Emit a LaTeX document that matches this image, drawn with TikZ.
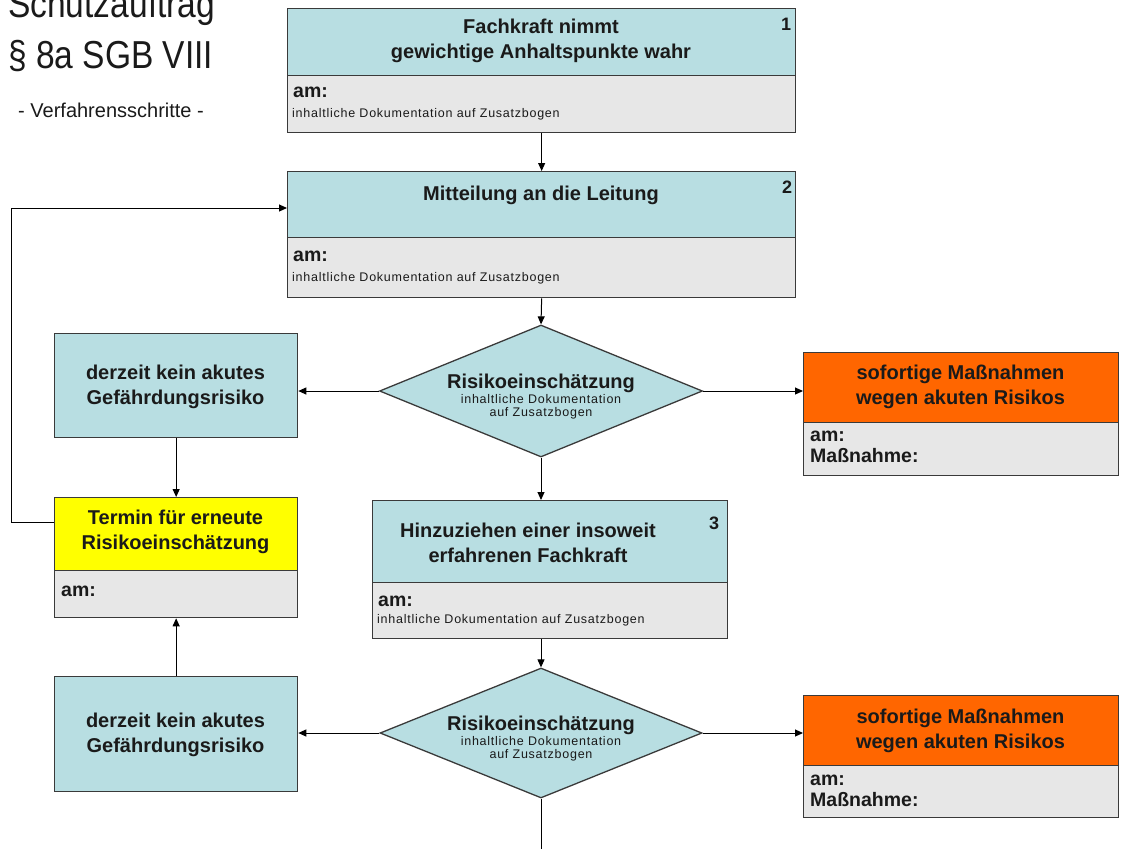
\documentclass[tikz,border=0pt]{standalone}
\usepackage{fontspec}
\setmainfont{Liberation Sans}
\newfontfamily\titlefont{Liberation Sans}[FakeStretch=0.86]
\newfontfamily\smallfont{Liberation Sans}[LetterSpace=6]
\usetikzlibrary{shapes.geometric,arrows.meta,calc}
\definecolor{lblue}{HTML}{B8DEE2}
\definecolor{lgray}{HTML}{E7E7E7}
\definecolor{orng}{HTML}{FF6600}
\definecolor{yel}{HTML}{FFFF00}
\definecolor{bord}{HTML}{3A3A3A}
\definecolor{txt}{HTML}{1A1A1A}
\tikzset{
  part/.style={draw=bord, line width=1.3pt, inner sep=0pt, anchor=north west},
  hdr/.style={part, fill=lblue},
  ohdr/.style={part, fill=orng},
  yhdr/.style={part, fill=yel},
  ftr/.style={part, fill=lgray},
  dia/.style={diamond, draw=bord, line width=1.3pt, fill=lblue, inner sep=0pt},
  arr/.style={-{Triangle[length=8pt,width=7pt]}, line width=1pt, draw=black},
  ln/.style={line width=1pt, draw=black},
  bt/.style={font=\fontsize{20}{25}\selectfont\bfseries, text=txt, align=center, inner sep=0pt, anchor=base},
  num/.style={font=\fontsize{18}{18}\selectfont\bfseries, text=txt, inner sep=0pt, anchor=base},
  am/.style={font=\fontsize{19.5}{20.5}\selectfont\bfseries, text=txt, align=left, inner sep=0pt, anchor=base west},
  sm/.style={font=\smallfont\fontsize{12.5}{13}\selectfont, text=txt, inner sep=0pt, anchor=base west},
  smc/.style={font=\smallfont\fontsize{12.5}{13}\selectfont, text=txt, align=center, inner sep=0pt, anchor=base},
  ttl/.style={font=\titlefont\fontsize{39}{39}\selectfont, text=txt, inner sep=0pt, anchor=base west},
}
\begin{document}
\begin{tikzpicture}[x=1pt,y=-1pt]
\useasboundingbox (0,0) rectangle (1121,849);
% titles
\node[ttl] (t1) at (8,17) {Schutzauftrag};
\node[ttl] (t2) at (8,68) {§ 8a SGB VIII};
\node[font=\fontsize{20}{20}\selectfont, text=txt, inner sep=0pt, anchor=base west] (t3) at (18,117) {- Verfahrensschritte -};

% box 1
\node[ftr, minimum width=508, minimum height=57] (b1f) at (287,75) {};
\node[hdr, minimum width=508, minimum height=67] (b1h) at (287,8) {};
\node[bt] (b1t) at (541,58) {Fachkraft nimmt\\gewichtige Anhaltspunkte wahr};
\node[num] (b1n) at (786,30) {1};
\node[am] (b1a) at (293,97) {am:};
\node[sm] (b1s) at (292,117) {inhaltliche Dokumentation auf Zusatzbogen};

% box 2
\node[ftr, minimum width=508, minimum height=60] (b2f) at (287,237) {};
\node[hdr, minimum width=508, minimum height=66] (b2h) at (287,171) {};
\node[bt] (b2t) at (541,200) {Mitteilung an die Leitung};
\node[num] (b2n) at (787,193) {2};
\node[am] (b2a) at (293,261) {am:};
\node[sm] (b2s) at (292,281) {inhaltliche Dokumentation auf Zusatzbogen};

% diamond 1
\node[dia, minimum width=323, minimum height=132] (d1) at (541,391) {};
\node[bt] (d1t) at (541,388) {Risikoeinschätzung};
\node[smc] (d1s) at (541,416) {inhaltliche Dokumentation\\auf Zusatzbogen};

% left box 1
\node[hdr, minimum width=243, minimum height=104] (l1) at (54,333) {};
\node[bt] (l1t) at (175.5,404) {derzeit kein akutes\\Gefährdungsrisiko};

% yellow box
\node[ftr, minimum width=243, minimum height=47] (yf) at (54,570) {};
\node[yhdr, minimum width=243, minimum height=73] (yh) at (54,497) {};
\node[bt] (yt) at (175.5,549) {Termin für erneute\\Risikoeinschätzung};
\node[am] (ya) at (61,596) {am:};

% orange box 1
\node[ftr, minimum width=315, minimum height=53] (o1f) at (803,422) {};
\node[ohdr, minimum width=315, minimum height=70] (o1h) at (803,352) {};
\node[bt] (o1t) at (960.5,404) {sofortige Maßnahmen\\wegen akuten Risikos};
\node[am] (o1a) at (810,462) {am:\\Maßnahme:};

% box 3
\node[ftr, minimum width=355, minimum height=56] (b3f) at (372,582) {};
\node[hdr, minimum width=355, minimum height=82] (b3h) at (372,500) {};
\node[bt] (b3t) at (528,562) {Hinzuziehen einer insoweit\\erfahrenen Fachkraft};
\node[num] (b3n) at (714,529) {3};
\node[am] (b3a) at (378,606) {am:};
\node[sm] (b3s) at (377,623) {inhaltliche Dokumentation auf Zusatzbogen};

% diamond 2
\node[dia, minimum width=322, minimum height=130] (d2) at (541,733) {};
\node[bt] (d2t) at (541,730) {Risikoeinschätzung};
\node[smc] (d2s) at (541,758) {inhaltliche Dokumentation\\auf Zusatzbogen};

% left box 2
\node[hdr, minimum width=243, minimum height=115] (l2) at (54,676) {};
\node[bt] (l2t) at (175.5,752) {derzeit kein akutes\\Gefährdungsrisiko};

% orange box 2
\node[ftr, minimum width=315, minimum height=52] (o2f) at (803,765) {};
\node[ohdr, minimum width=315, minimum height=70] (o2h) at (803,695) {};
\node[bt] (o2t) at (960.5,748) {sofortige Maßnahmen\\wegen akuten Risikos};
\node[am] (o2a) at (810,806) {am:\\Maßnahme:};

\coordinate (dend) at (541,849);
\coordinate (fb1) at (11,522);
\coordinate (fb2) at (11,208);

% connectors
\draw[arr] (b1f.south) -- (b2h.north);
\draw[arr] (b2f.south) -- (d1.north);
\draw[arr] (d1.west) -- (d1.west -| l1.east);
\draw[arr] (d1.east) -- (d1.east -| o1h.west);
\draw[arr] (l1.south) -- (yh.north);
\draw[arr] (d1.south) -- (d1.south |- b3h.north);
\draw[arr] (d1.south |- b3f.south) -- (d2.north);
\draw[arr] (d2.west) -- (d2.west -| l2.east);
\draw[arr] (d2.east) -- (d2.east -| o2h.west);
\draw[arr] (l2.north) -- (yf.south);
\draw[ln] (d2.south) -- (dend);
\draw[arr] (fb1 -| yh.west) -- (fb1) -- (fb2) -- (fb2 -| b2h.west);
\end{tikzpicture}
\end{document}
